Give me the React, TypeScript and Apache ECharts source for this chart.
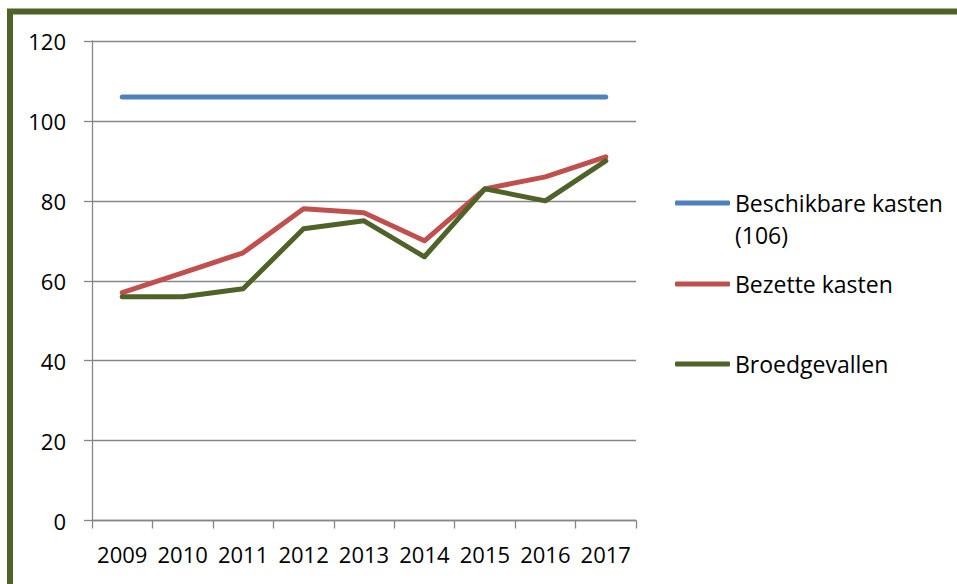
import React, { useEffect, useRef } from "react";
import * as echarts from "echarts";

const years = ["2009", "2010", "2011", "2012", "2013", "2014", "2015", "2016", "2017"];
const beschikbare = [106, 106, 106, 106, 106, 106, 106, 106, 106];
const bezette = [57, 62, 67, 78, 77, 70, 83, 86, 91];
const broedgevallen = [56, 56, 58, 73, 75, 66, 83, 80, 90];
const seriesNames = ["Beschikbare kasten\n(106)", "Bezette kasten", "Broedgevallen"];
const yTicks = { min: 0, max: 120, interval: 20 };

const FONT = "Open Sans";
const GRAY = "#868686";
const COLORS = ["#4F81BD", "#C0504D", "#4F6228"];

export default function App() {
  const ref = useRef<HTMLDivElement>(null);
  useEffect(() => {
    if (!ref.current) return;
    const chart = echarts.init(ref.current, null, { renderer: "svg" });
    const legendBase = {
      orient: "vertical" as const,
      left: 670,
      icon: "roundRect",
      itemWidth: 55,
      itemHeight: 5,
      textStyle: { fontFamily: FONT, fontSize: 23, color: "#000", lineHeight: 32 },
    };
    chart.setOption({
      animation: false,
      backgroundColor: "#fff",
      color: COLORS,
      grid: { left: 92, right: 321, top: 41, bottom: 63.5, containLabel: false },
      legend: [
        {
          ...legendBase,
          top: 150,
          data: [seriesNames[0]],
          formatter: (n: string) => "{e| }\n" + n,
          textStyle: { ...legendBase.textStyle, rich: { e: { fontSize: 23, lineHeight: 32 } } },
        },
        { ...legendBase, top: 263, data: [seriesNames[1]] },
        { ...legendBase, top: 343, data: [seriesNames[2]] },
      ],
      xAxis: {
        type: "category",
        data: years,
        boundaryGap: true,
        axisLine: { lineStyle: { color: GRAY, width: 1.3 } },
        axisTick: { show: true, length: 8, alignWithLabel: false, lineStyle: { color: GRAY, width: 1.3 } },
        axisLabel: { fontFamily: FONT, fontSize: 22, color: "#000", margin: 22, interval: 0 },
        splitLine: { show: false },
      },
      yAxis: {
        type: "value",
        min: yTicks.min,
        max: yTicks.max,
        interval: yTicks.interval,
        axisLine: { show: true, lineStyle: { color: GRAY, width: 1.3 } },
        axisTick: { show: true, length: 8, lineStyle: { color: GRAY, width: 1.3 } },
        axisLabel: { fontFamily: FONT, fontSize: 22, color: "#000", margin: 26 },
        splitLine: { show: true, lineStyle: { color: GRAY, width: 1.3 } },
      },
      series: [
        { name: seriesNames[0], type: "line", data: beschikbare },
        { name: seriesNames[1], type: "line", data: bezette },
        { name: seriesNames[2], type: "line", data: broedgevallen },
      ].map((s, i) => ({
        ...s,
        symbol: "none",
        lineStyle: { width: 5, color: COLORS[i], cap: "round", join: "round" },
        itemStyle: { color: COLORS[i] },
      })),
      graphic: [
        {
          type: "rect",
          shape: { x: 10, y: 11.5, width: 980, height: 620 },
          style: { fill: "none", stroke: "#4F6228", lineWidth: 6 },
          silent: true,
        },
      ],
    });
    return () => chart.dispose();
  }, []);
  return (
    <div style={{ position: "fixed", left: 0, top: 0, width: 957, height: 584, background: "#fff" }}>
      <div ref={ref} style={{ width: 957, height: 584 }} />
    </div>
  );
}
